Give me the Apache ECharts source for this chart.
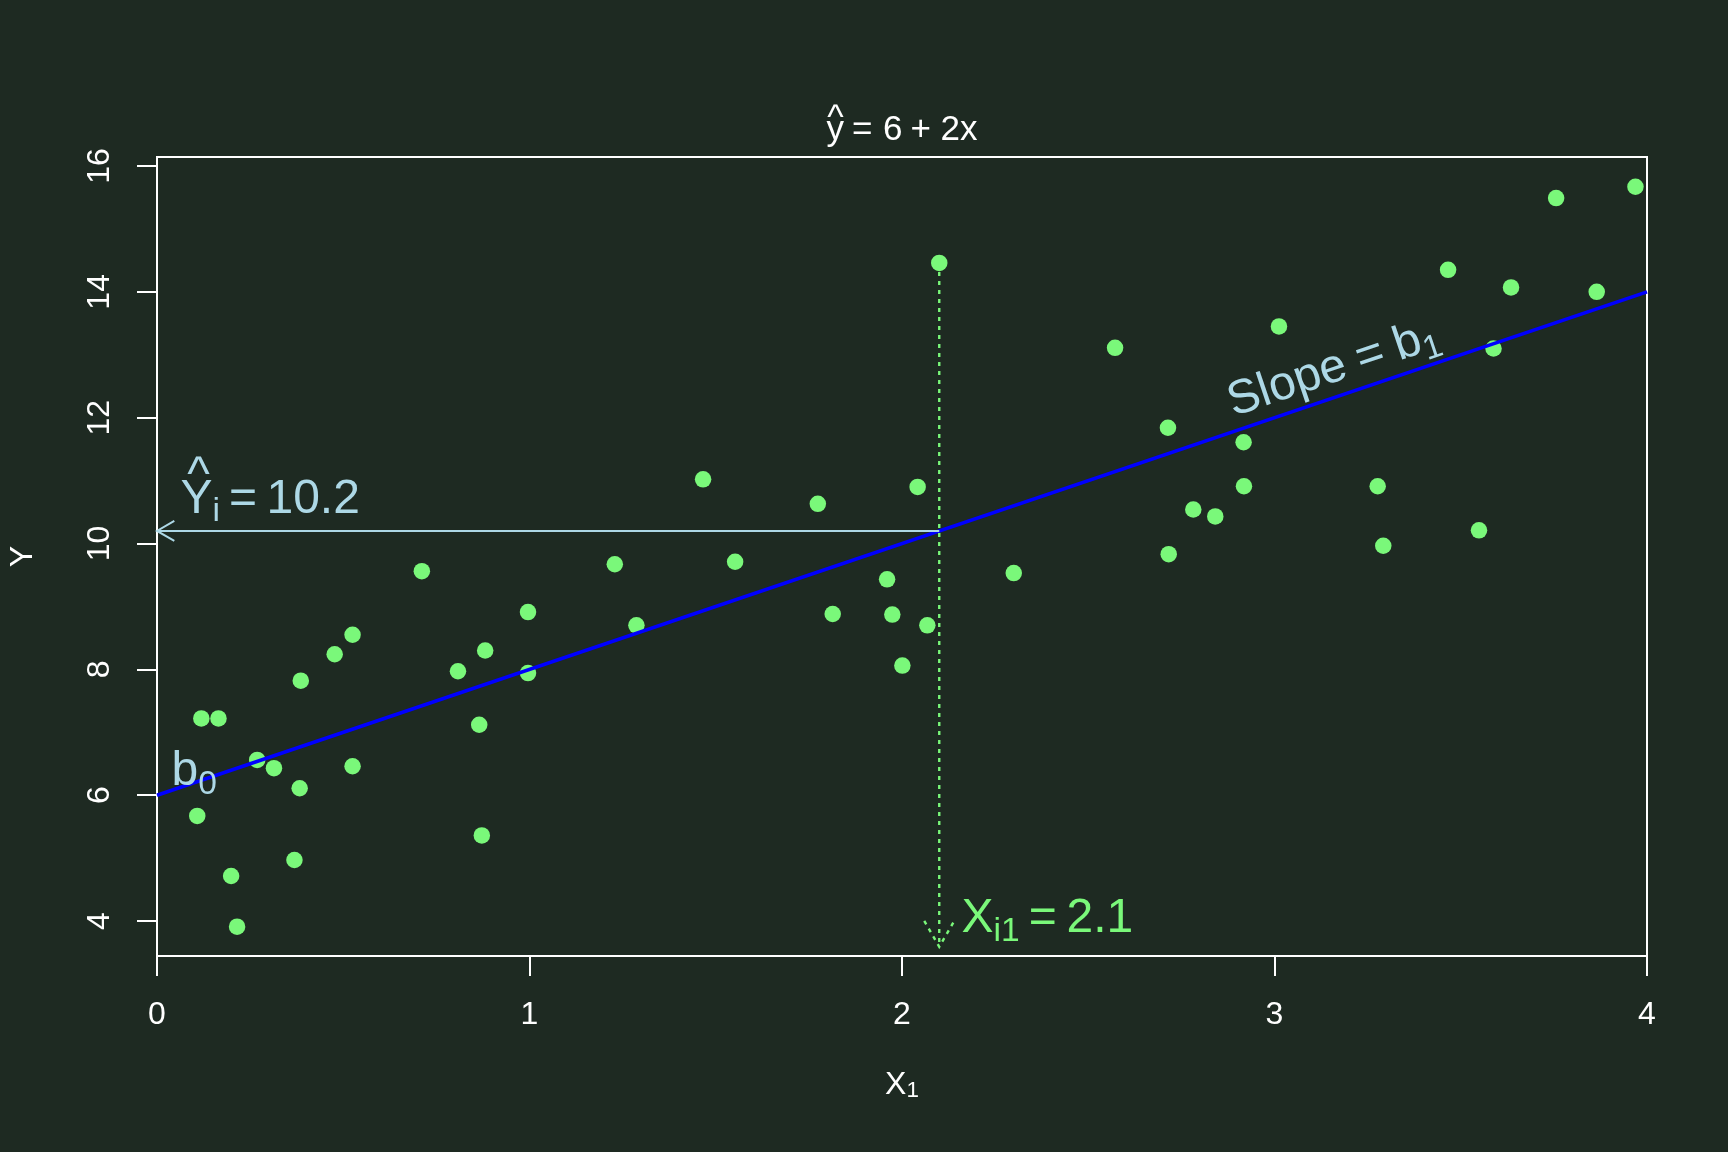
<!DOCTYPE html>
<html>
<head>
<meta charset="utf-8">
<script src="https://cdn.jsdelivr.net/npm/echarts@6.0.0/dist/echarts.min.js"></script>
<style>
html,body{margin:0;padding:0;background:#1e2a22;}
#chart{width:1728px;height:1152px;}
</style>
</head>
<body>
<div id="chart"></div>
<script>
// ---------------- data ----------------
const xValues = [0.108,0.119,0.165,0.199,0.215,0.269,0.314,0.369,0.383,0.386,
                 0.477,0.525,0.525,0.711,0.808,0.865,0.872,0.881,0.996,0.996,
                 1.229,1.287,1.466,1.552,1.774,1.814,1.960,1.974,2.001,2.042,
                 2.068,2.100,2.300,2.572,2.714,2.716,2.782,2.841,2.917,2.918,
                 3.012,3.277,3.292,3.466,3.549,3.588,3.635,3.756,3.865,3.969];
const yValues = [5.67,7.22,7.22,4.715,3.91,6.56,6.43,4.97,6.11,7.82,
                 8.24,8.55,6.46,9.56,7.97,7.12,5.36,8.30,8.91,7.94,
                 9.67,8.70,11.02,9.71,10.63,8.88,9.43,8.87,8.06,10.90,
                 8.70,14.46,9.53,13.11,11.84,9.83,10.54,10.43,11.61,10.91,
                 13.45,10.91,9.965,14.35,10.21,13.10,14.07,15.49,14.00,15.67];
const fitX = [0, 4];
const fitY = [6, 14];
const xTicks = [0, 1, 2, 3, 4];
const yTicks = [4, 6, 8, 10, 12, 14, 16];
const xRange = [0, 4];
const yRange = [3.444, 16.143];
// arrows: Y-hat projection and X_i1 projection
const arrowFrom = [[2.1, 10.2], [2.1, 14.46]];
const arrowTo   = [[0, 10.2],   [2.1, 3.59]];
// annotation anchors (left end of text baseline, in data units)
const annotationPos = [[0.063, 10.49], [0.039, 6.157], [2.160, 3.82], [2.89, 12.02]];
const titleText = ['y', '=', '6', '+', '2x'];
const xAxisName = ['X', '1'];
const yAxisName = 'Y';

// ---------------- styles ----------------
const BG = '#1e2a22', GREEN = '#7af87a', LBLUE = '#add8e6', BLUE = '#0000ff', WHITE = '#ffffff';
const FONT = '"Liberation Sans", Arial, Helvetica, sans-serif';
const GRID = {left: 157, right: 81, top: 157, bottom: 196};
const BIG = 48, SUB = 33.6, TITLE = 35;

const annotations = [
  {color: LBLUE, runs: [{t:'Y', s:BIG}, {t:'i', s:SUB, dy:8.5}, {t:'=', s:BIG, gap:9}, {t:'10.2', s:BIG, gap:9.5}],
   hats: [{over:0, s:BIG, cy:-48, dx:2}]},
  {color: LBLUE, runs: [{t:'b', s:BIG}, {t:'0', s:SUB, dy:8.7}]},
  {color: GREEN, runs: [{t:'X', s:BIG}, {t:'i1', s:SUB, dy:8.7}, {t:'=', s:BIG, gap:9}, {t:'2.1', s:BIG, gap:9.7}]},
  {color: LBLUE, alongFit: true, runs: [{t:'Slope', s:BIG}, {t:'=', s:BIG, gap:12}, {t:'b', s:BIG, gap:12}, {t:'1', s:SUB, dy:8.7}]}
];
const arrowStyles = [
  {color: LBLUE, width: 2, head: 20},
  {color: GREEN, width: 2.4, head: 30, dash: [4, 5]}
];

// ---------------- text helpers ----------------
const mctx = document.createElement('canvas').getContext('2d');
function fontStr(s) { return s + 'px ' + FONT; }
function midToBase(s) {
  mctx.font = fontStr(s);
  mctx.textBaseline = 'alphabetic';
  const a = mctx.measureText('H').fontBoundingBoxAscent;
  mctx.textBaseline = 'middle';
  const b = mctx.measureText('H').fontBoundingBoxAscent;
  mctx.textBaseline = 'alphabetic';
  if (typeof a === 'number' && typeof b === 'number' && isFinite(a - b)) return a - b;
  return 0.3465 * s;
}
function textW(t, s) { mctx.font = fontStr(s); mctx.textBaseline = 'alphabetic'; return mctx.measureText(t).width; }
function inkCenterAbove(t, s) {
  mctx.font = fontStr(s); mctx.textBaseline = 'alphabetic';
  const m = mctx.measureText(t);
  if (typeof m.actualBoundingBoxAscent === 'number') return (m.actualBoundingBoxAscent - m.actualBoundingBoxDescent) / 2;
  return 0.52 * s;
}
function txt(t, s, color, x, baseY, align) {
  return {type: 'text', x: x, y: baseY - midToBase(s),
    style: {text: t, font: fontStr(s), fill: color, align: align || 'left', verticalAlign: 'middle',
            textAlign: align || 'left', textVerticalAlign: 'middle'}};
}
function buildRuns(runs, color, hats) {
  const children = []; const pos = []; let x = 0;
  runs.forEach(r => {
    x += (r.gap || 0);
    const w = textW(r.t, r.s);
    pos.push({x: x, w: w});
    children.push(txt(r.t, r.s, color, x, r.dy || 0, 'left'));
    x += w;
  });
  (hats || []).forEach(h => {
    const p = pos[h.over];
    const base = h.cy + inkCenterAbove('^', h.s);
    children.push(txt('^', h.s, color, p.x + p.w / 2 + (h.dx || 0), base, 'center'));
  });
  return {children: children, width: x};
}

// ---------------- renderers ----------------
function renderArrow(params, api) {
  const a = api.coord([api.value(0), api.value(1)]);
  const b = api.coord([api.value(2), api.value(3)]);
  const st = arrowStyles[params.dataIndex];
  const ang = Math.atan2(b[1] - a[1], b[0] - a[0]);
  const L = st.head, h = Math.PI / 6;
  const w1 = [b[0] - L * Math.cos(ang - h), b[1] - L * Math.sin(ang - h)];
  const w2 = [b[0] - L * Math.cos(ang + h), b[1] - L * Math.sin(ang + h)];
  const style = {stroke: st.color, lineWidth: st.width, lineDash: st.dash || null, fill: 'none'};
  return {type: 'group', children: [
    {type: 'line', shape: {x1: a[0], y1: a[1], x2: b[0], y2: b[1]}, style: style},
    {type: 'polyline', shape: {points: [w1, b, w2]}, style: style}
  ]};
}
function renderAnnotation(params, api) {
  const a = annotations[params.dataIndex];
  const p = api.coord([api.value(0), api.value(1)]);
  let rotation = 0;
  if (a.alongFit) {
    const p0 = api.coord([fitX[0], fitY[0]]), p1 = api.coord([fitX[1], fitY[1]]);
    rotation = Math.atan2(p0[1] - p1[1], p1[0] - p0[0]);
  }
  const built = buildRuns(a.runs, a.color, a.hats);
  return {type: 'group', x: p[0], y: p[1], rotation: rotation, children: built.children};
}

// ---------------- chart ----------------
const chart = echarts.init(document.getElementById('chart'), null, {renderer: 'canvas'});
const axisText = {color: WHITE, fontSize: 32, fontFamily: FONT};
const option = {
  backgroundColor: BG,
  animation: false,
  grid: {left: GRID.left, right: GRID.right, top: GRID.top, bottom: GRID.bottom,
         show: true, borderColor: WHITE, borderWidth: 2, backgroundColor: 'transparent',
         containLabel: false, outerBoundsMode: 'none'},
  xAxis: {
    type: 'value', min: xRange[0], max: xRange[1], interval: 1,
    axisLine: {show: false},
    axisTick: {show: true, length: 20, lineStyle: {color: WHITE, width: 2}},
    axisLabel: Object.assign({margin: 43, formatter: v => String(v), customValues: xTicks}, axisText),
    splitLine: {show: false},
    name: '{m|' + xAxisName[0] + '}{s|' + xAxisName[1] + '}',
    nameLocation: 'middle', nameGap: 113.6, nameMoveOverlap: false,
    nameTextStyle: {color: WHITE, fontFamily: FONT,
      rich: {m: {fontSize: 32, lineHeight: 32, color: WHITE, fontFamily: FONT},
             s: {fontSize: 22.4, lineHeight: 15, verticalAlign: 'bottom', color: WHITE, fontFamily: FONT}}}
  },
  yAxis: {
    type: 'value', min: yRange[0], max: yRange[1],
    axisLine: {show: false},
    axisTick: {show: true, length: 20, lineStyle: {color: WHITE, width: 2}, customValues: yTicks},
    axisLabel: Object.assign({margin: 41, rotate: 90, formatter: v => String(v), customValues: yTicks}, axisText),
    splitLine: {show: false},
    name: yAxisName, nameLocation: 'middle', nameGap: 117.6, nameMoveOverlap: false,
    nameTextStyle: {color: WHITE, fontSize: 32, fontFamily: FONT}
  },
  series: [
    {type: 'scatter', z: 2, symbol: 'circle', symbolSize: 16.5, silent: true,
     itemStyle: {color: GREEN, opacity: 1},
     data: xValues.map((x, i) => [x, yValues[i]])},
    {type: 'line', z: 3, symbol: 'none', silent: true,
     lineStyle: {color: BLUE, width: 3.6},
     data: fitX.map((x, i) => [x, fitY[i]])},
    {type: 'custom', z: 4, silent: true, renderItem: renderArrow,
     encode: {x: [0, 2], y: [1, 3]},
     data: arrowFrom.map((f, i) => [f[0], f[1], arrowTo[i][0], arrowTo[i][1]])},
    {type: 'custom', z: 5, silent: true, renderItem: renderAnnotation,
     encode: {x: 0, y: 1},
     data: annotationPos.map((p, i) => [p[0], p[1], i])}
  ]
};
chart.setOption(option);

// title above the plot, centred on the plot region
(function () {
  const cx = chart.convertToPixel({xAxisIndex: 0}, (xRange[0] + xRange[1]) / 2);
  const runs = [
    {t: titleText[0], s: TITLE},
    {t: titleText[1], s: TITLE, gap: 8},
    {t: titleText[2], s: TITLE, gap: 10.5},
    {t: titleText[3], s: TITLE, gap: 8},
    {t: titleText[4], s: TITLE, gap: 9.5}
  ];
  const built = buildRuns(runs, WHITE, [{over: 0, s: TITLE, cy: -30, dx: 0}]);
  chart.setOption({graphic: [{type: 'group', x: cx - built.width / 2, y: GRID.top - 17, children: built.children, silent: true}]});
})();
</script>
</body>
</html>
